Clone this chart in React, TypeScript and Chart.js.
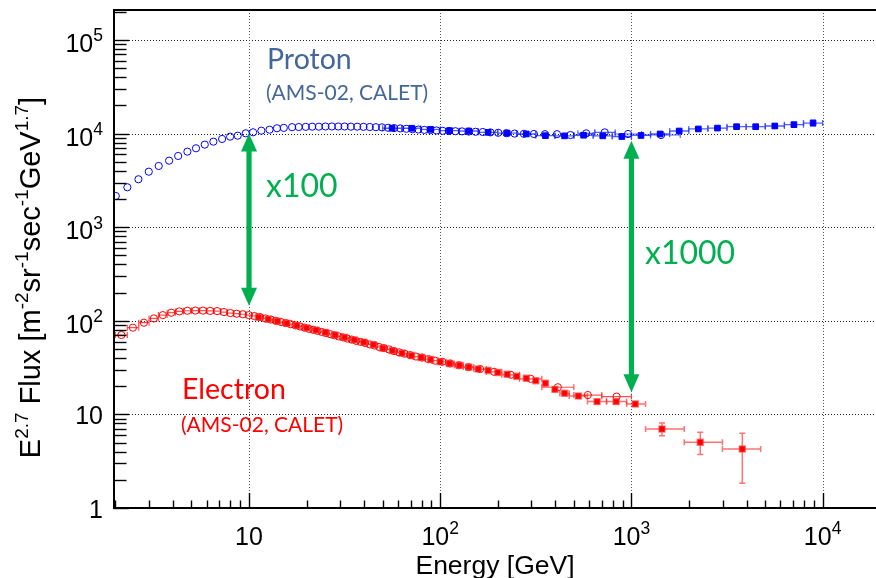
import React, { useEffect, useRef } from "react";
import { Chart, registerables } from "chart.js";

Chart.register(...registerables);

// ---------------- data ----------------
const xTickExponents = [1, 2, 3, 4];
const yTickExponents = [0, 1, 2, 3, 4, 5];
const xMin = 1.967;
const xMax = 19020;
const yMin = 1;
const yMax = 209000;

// Proton, AMS-02 (open circles)
const protonAmsEnergy = [2.01, 2.31, 2.64, 2.99, 3.37, 3.82, 4.26, 4.76, 5.28, 5.87, 6.51, 7.23, 7.96, 8.73, 9.61, 10.5, 11.6, 12.8, 14.0, 15.2, 16.8, 18.2, 19.8, 21.4, 23.2, 25.1, 27.1, 29.3, 31.6, 34.1, 36.8, 39.7, 42.8, 46.1, 49.6, 53.4, 57.4, 61.8, 66.5, 71.5, 76.8, 82.6, 88.9, 95.6, 103, 111, 120, 130, 141, 153, 167, 183, 201, 222, 245, 274, 309, 353, 408, 480, 580, 725, 960, 1430];
const protonAmsFlux = [2154, 2670, 3250, 3917, 4508, 5137, 5765, 6412, 6965, 7620, 8200, 8760, 9270, 9500, 10070, 10320, 10740, 11000, 11400, 11500, 11700, 11750, 11800, 11850, 11850, 11900, 11900, 11900, 11900, 11850, 11850, 11800, 11750, 11700, 11650, 11550, 11450, 11350, 11250, 11150, 11050, 10950, 10900, 10800, 10700, 10650, 10600, 10550, 10500, 10450, 10400, 10300, 10200, 10100, 10000, 9950, 9900, 9850, 9850, 9650, 10050, 10300, 9900, 9650];
const protonAmsEnergyBars: [number, number, number][] = [[60, 525, 643], [61, 643, 822], [62, 822, 1130], [63, 1130, 1800]];

// Proton, CALET (filled squares)
const protonCaletEnergy = [56, 71, 89, 112, 141, 178, 224, 282, 355, 447, 562, 708, 891, 1122, 1413, 1778, 2239, 2818, 3548, 4467, 5623, 7079, 8913];
const protonCaletFlux = [11400, 11400, 11100, 10750, 10650, 10300, 10100, 9900, 9500, 9450, 9600, 9450, 9300, 9550, 9900, 10650, 11200, 11450, 11850, 11850, 12050, 12450, 12950];
const protonCaletBinEdges = [50, 63, 79, 100, 126, 158, 200, 251, 316, 398, 501, 631, 794, 1000, 1259, 1585, 1995, 2512, 3162, 3981, 5012, 6310, 7943, 10000];
const protonCaletFluxBars: [number, number, number][] = [[18, 11500, 12200], [19, 11370, 12320], [20, 11450, 12650], [21, 11700, 13200], [22, 12070, 13890]];

// Electron, AMS-02 (open circles)
const electronAmsEnergy = [2.15, 2.47, 2.82, 3.18, 3.54, 3.92, 4.32, 4.76, 5.24, 5.74, 6.26, 6.81, 7.39, 7.99, 8.62, 9.28, 9.97, 10.67, 11.41, 12.19, 12.99, 13.82, 14.69, 15.59, 16.52, 17.48, 18.48, 19.51, 20.58, 21.68, 22.83, 24.01, 25.25, 26.57, 27.96, 29.44, 31.0, 32.66, 34.43, 36.32, 38.34, 40.48, 42.79, 45.27, 47.93, 50.81, 53.93, 57.33, 61.04, 65.13, 69.64, 74.66, 80.31, 86.71, 94.05, 102.6, 112.7, 125.1, 140.7, 161.7, 191.4, 233.7, 297.3, 412.3, 591.6, 836.7];
const electronAmsFlux = [70.5, 84.4, 95.4, 106, 115, 122, 126, 128, 128.5, 128.5, 127.5, 127, 124, 121, 119, 117.5, 115, 112.5, 109.5, 106, 103, 100, 97, 94.5, 92, 89.5, 87, 84.5, 82, 80, 78, 76, 74, 72, 70, 68, 66.5, 64.5, 63, 61, 59.5, 58, 56, 54.5, 52.5, 51, 49.5, 47.5, 46, 44.5, 43, 41.5, 40.5, 39, 37.5, 36.5, 35, 33.5, 32, 30.5, 28.5, 26.5, 24, 19.5, 16.1, 15.5];
const electronAmsBinEdges = [2.0, 2.31, 2.65, 3.0, 3.36, 3.73, 4.12, 4.54, 5.0, 5.49, 6.0, 6.54, 7.1, 7.69, 8.3, 8.95, 9.62, 10.32, 11.04, 11.8, 12.59, 13.41, 14.25, 15.14, 16.05, 17.0, 17.98, 18.99, 20.04, 21.13, 22.25, 23.42, 24.62, 25.9, 27.25, 28.68, 30.21, 31.82, 33.53, 35.36, 37.31, 39.39, 41.61, 44.0, 46.57, 49.33, 52.33, 55.58, 59.13, 63.02, 67.3, 72.05, 77.37, 83.36, 90.19, 98.08, 107.3, 118.4, 132.1, 149.8, 174.5, 210, 260, 340, 500, 700, 1000];

// Electron, CALET (filled squares)
const electronCaletEnergy = [11.2, 12.6, 14.1, 15.8, 17.8, 20.0, 22.4, 25.1, 28.2, 31.6, 35.5, 39.8, 44.7, 50.1, 56.2, 63.1, 70.8, 79.4, 89.1, 100, 112, 126, 141, 158, 178, 200, 224, 251, 282, 316, 355, 398, 447, 528, 661, 832, 1047, 1445, 2291, 3802];
const electronCaletFlux = [109, 104, 99, 94, 89, 84, 79.5, 75, 70.5, 66.5, 62.5, 59, 55.5, 51, 48, 45, 42.5, 40.5, 38.5, 36.5, 35, 33.5, 32, 30.5, 29.5, 28, 26.8, 25.5, 24.3, 22.9, 21.5, 18.5, 16.8, 15.7, 13.7, 13.7, 12.9, 6.98, 5.03, 4.27];
const electronCaletEnergyBars: [number, number, number][] = [[32, 422, 473], [33, 473, 589], [34, 589, 741], [35, 741, 944], [36, 944, 1186], [37, 1186, 1889], [38, 1889, 2992], [39, 2992, 4742]];
const electronCaletFluxBars: [number, number, number][] = [[35, 13.1, 14.3], [36, 12.2, 13.7], [37, 5.9, 8.1], [38, 3.74, 6.44], [39, 1.84, 6.28]];

// Annotations (ratio arrows)
const arrowEnergy = [10, 1000];
const arrowFluxTop = [10000, 8400];
const arrowFluxBottom = [145, 17.2];
const arrowLabels = ["x100", "x1000"];

// ---------------- helpers ----------------
const MAIN_FONT = '"Liberation Sans", Arial, Helvetica, sans-serif';
const NOTE_FONT = 'Lato, "Open Sans", sans-serif';

type Seg = { t: string; sup?: boolean };

function segWidth(ctx: CanvasRenderingContext2D, segs: Seg[], main: string, sup: string) {
  let w = 0;
  for (const s of segs) {
    ctx.font = s.sup ? sup : main;
    w += ctx.measureText(s.t).width;
  }
  return w;
}

function drawSegs(ctx: CanvasRenderingContext2D, segs: Seg[], x: number, y: number, main: string, sup: string, raise: number) {
  let cx = x;
  for (const s of segs) {
    ctx.font = s.sup ? sup : main;
    ctx.fillText(s.t, cx, s.sup ? y - raise : y);
    cx += ctx.measureText(s.t).width;
  }
}

function powSegs(e: number): Seg[] {
  if (e === 0) return [{ t: "1" }];
  if (e === 1) return [{ t: "10" }];
  return [{ t: "10" }, { t: String(e), sup: true }];
}

function buildBars(edges: number[]): [number, number, number][] {
  const out: [number, number, number][] = [];
  for (let i = 0; i < edges.length - 1; i++) out.push([i, edges[i], edges[i + 1]]);
  return out;
}

const backgroundPlugin = {
  id: "bgAndGrid",
  beforeDatasetsDraw(chart: any) {
    const { ctx, chartArea: a, scales } = chart;
    const x = scales.x;
    const y = scales.y;
    ctx.save();
    ctx.lineWidth = 1;
    ctx.setLineDash([1, 2]);
    ctx.strokeStyle = "#222";
    for (const e of yTickExponents) {
      if (e === 0) continue;
      const py = Math.round(y.getPixelForValue(Math.pow(10, e))) + 0.5;
      ctx.beginPath();
      ctx.moveTo(a.left, py);
      ctx.lineTo(a.right, py);
      ctx.stroke();
    }
    ctx.strokeStyle = "#555";
    for (const e of xTickExponents) {
      const px = Math.round(x.getPixelForValue(Math.pow(10, e))) + 0.5;
      ctx.beginPath();
      ctx.moveTo(px, a.top);
      ctx.lineTo(px, a.bottom);
      ctx.stroke();
    }
    ctx.setLineDash([]);

    ctx.beginPath();
    ctx.rect(a.left, a.top, a.right - a.left, a.bottom - a.top);
    ctx.clip();
    chart.data.datasets.forEach((ds: any) => {
      const eb = ds.errorBars;
      if (!eb) return;
      ctx.strokeStyle = eb.color;
      ctx.lineWidth = eb.width;
      const cap = eb.cap;
      (eb.x || []).forEach(([i, lo, hi]: number[]) => {
        const p = ds.data[i];
        const py = y.getPixelForValue(p.y);
        const x1 = x.getPixelForValue(lo);
        const x2 = x.getPixelForValue(hi);
        ctx.beginPath();
        ctx.moveTo(x1, py);
        ctx.lineTo(x2, py);
        if (cap > 0) {
          ctx.moveTo(x1, py - cap);
          ctx.lineTo(x1, py + cap);
          ctx.moveTo(x2, py - cap);
          ctx.lineTo(x2, py + cap);
        }
        ctx.stroke();
      });
      (eb.y || []).forEach(([i, lo, hi]: number[]) => {
        const p = ds.data[i];
        const px = x.getPixelForValue(p.x);
        const y1 = y.getPixelForValue(lo);
        const y2 = y.getPixelForValue(hi);
        ctx.beginPath();
        ctx.moveTo(px, y1);
        ctx.lineTo(px, y2);
        ctx.moveTo(px - cap, y1);
        ctx.lineTo(px + cap, y1);
        ctx.moveTo(px - cap, y2);
        ctx.lineTo(px + cap, y2);
        ctx.stroke();
      });
    });
    ctx.restore();
  },
};

const framePlugin = {
  id: "frameAndText",
  afterDraw(chart: any) {
    const { ctx, chartArea: a, scales } = chart;
    const x = scales.x;
    const y = scales.y;
    ctx.save();
    ctx.strokeStyle = "#000";
    ctx.fillStyle = "#000";

    ctx.lineWidth = 1.4;
    for (let e = 0; e <= 5; e++) {
      for (let m = 1; m <= 9; m++) {
        const v = m * Math.pow(10, e);
        if (v < yMin || v > yMax) continue;
        const py = Math.round(y.getPixelForValue(v)) + 0.5;
        const len = m === 1 ? 15 : 12.5;
        ctx.beginPath();
        ctx.moveTo(a.left, py);
        ctx.lineTo(a.left + len, py);
        ctx.stroke();
      }
    }
    for (let e = 0; e <= 4; e++) {
      for (let m = 1; m <= 9; m++) {
        const v = m * Math.pow(10, e);
        if (v < xMin || v > xMax) continue;
        const px = Math.round(x.getPixelForValue(v)) + 0.5;
        const len = m === 1 ? 15 : 7.5;
        ctx.beginPath();
        ctx.moveTo(px, a.bottom);
        ctx.lineTo(px, a.bottom - len);
        ctx.stroke();
      }
    }

    // frame (right side lies beyond the canvas, as in the reference)
    ctx.lineWidth = 2;
    ctx.strokeRect(a.left, a.top, a.right - a.left + 6, a.bottom - a.top);

    ctx.textAlign = "left";
    ctx.textBaseline = "alphabetic";
    const main = `25px ${MAIN_FONT}`;
    const sup = `17.5px ${MAIN_FONT}`;
    for (const e of yTickExponents) {
      const segs = powSegs(e);
      const w = segWidth(ctx, segs, main, sup);
      const py = y.getPixelForValue(Math.pow(10, e));
      drawSegs(ctx, segs, 103 - w, py + (e >= 2 ? 12 : 9.5), main, sup, 10.5);
    }
    for (const e of xTickExponents) {
      const segs = powSegs(e);
      const w = segWidth(ctx, segs, main, sup);
      const px = x.getPixelForValue(Math.pow(10, e));
      drawSegs(ctx, segs, px - w / 2, 545, main, sup, 11);
    }

    const xt: Seg[] = [{ t: "Energy [GeV]" }];
    const xMain = `26.5px ${MAIN_FONT}`;
    const xw = segWidth(ctx, xt, xMain, xMain);
    drawSegs(ctx, xt, 495 - xw / 2, 574, xMain, xMain, 0);

    const yt: Seg[] = [
      { t: "E" }, { t: "2.7", sup: true }, { t: " Flux [m" }, { t: "-2", sup: true },
      { t: "sr" }, { t: "-1", sup: true }, { t: "sec" }, { t: "-1", sup: true },
      { t: "GeV" }, { t: "1.7", sup: true }, { t: "]" },
    ];
    const yMain = `29px ${MAIN_FONT}`;
    const ySup = `19px ${MAIN_FONT}`;
    const yw = segWidth(ctx, yt, yMain, ySup);
    ctx.save();
    ctx.translate(40, 277.5);
    ctx.rotate(-Math.PI / 2);
    drawSegs(ctx, yt, -yw / 2, 0, yMain, ySup, 12);
    ctx.restore();

    ctx.fillStyle = "#00B050";
    for (let i = 0; i < arrowEnergy.length; i++) {
      const px = x.getPixelForValue(arrowEnergy[i]);
      const t = y.getPixelForValue(arrowFluxTop[i]);
      const b = y.getPixelForValue(arrowFluxBottom[i]);
      const hl = 18;
      const hw = 8;
      ctx.fillRect(px - 2.6, t + hl - 1, 5.2, b - t - 2 * hl + 2);
      ctx.beginPath();
      ctx.moveTo(px, t);
      ctx.lineTo(px - hw, t + hl);
      ctx.lineTo(px + hw, t + hl);
      ctx.closePath();
      ctx.fill();
      ctx.beginPath();
      ctx.moveTo(px, b);
      ctx.lineTo(px - hw, b - hl);
      ctx.lineTo(px + hw, b - hl);
      ctx.closePath();
      ctx.fill();
    }
    ctx.font = `32px ${NOTE_FONT}`;
    ctx.fillText(arrowLabels[0], 266, 197);
    ctx.fillText(arrowLabels[1], 645, 263.5);

    ctx.fillStyle = "#44679B";
    ctx.font = `28.5px ${NOTE_FONT}`;
    ctx.fillText("Proton", 267, 69);
    ctx.font = `21px ${NOTE_FONT}`;
    ctx.fillText("(AMS-02, CALET)", 266, 100);
    ctx.fillStyle = "#FF0000";
    ctx.font = `28.5px ${NOTE_FONT}`;
    ctx.fillText("Electron", 182, 399);
    ctx.font = `21px ${NOTE_FONT}`;
    ctx.fillText("(AMS-02, CALET)", 181, 431.5);

    ctx.restore();
  },
};

function toPoints(xs: number[], ys: number[]) {
  return xs.map((v, i) => ({ x: v, y: ys[i] }));
}

export default function App() {
  const ref = useRef<HTMLCanvasElement>(null);
  useEffect(() => {
    const canvas = ref.current;
    if (!canvas) return;
    const chart = new Chart(canvas, {
      type: "scatter",
      data: {
        datasets: [
          {
            label: "Proton AMS-02",
            data: toPoints(protonAmsEnergy, protonAmsFlux),
            pointStyle: "circle",
            pointRadius: 3.6,
            pointBorderWidth: 1,
            borderColor: "#0000FF",
            backgroundColor: "rgba(0,0,0,0)",
            order: 1,
            errorBars: { color: "rgba(40,60,255,0.8)", width: 1.2, cap: 3, x: protonAmsEnergyBars },
          } as any,
          {
            label: "Proton CALET",
            data: toPoints(protonCaletEnergy, protonCaletFlux),
            pointStyle: "rect",
            pointRadius: 4,
            pointBorderWidth: 1,
            borderColor: "#0000FF",
            backgroundColor: "#0000FF",
            order: 2,
            errorBars: { color: "rgba(40,60,255,0.8)", width: 1.3, cap: 3, x: buildBars(protonCaletBinEdges), y: protonCaletFluxBars },
          } as any,
          {
            label: "Electron AMS-02",
            data: toPoints(electronAmsEnergy, electronAmsFlux),
            pointStyle: "circle",
            pointRadius: 3.6,
            pointBorderWidth: 1,
            borderColor: "#FF0000",
            backgroundColor: "rgba(0,0,0,0)",
            order: 3,
            errorBars: { color: "rgba(255,40,40,0.8)", width: 1.2, cap: 3, x: buildBars(electronAmsBinEdges) },
          } as any,
          {
            label: "Electron CALET",
            data: toPoints(electronCaletEnergy, electronCaletFlux),
            pointStyle: "rect",
            pointRadius: 4.2,
            pointBorderWidth: 1.5,
            borderColor: "rgba(255,60,60,0.6)",
            backgroundColor: "#FF0000",
            order: 0,
            errorBars: { color: "rgba(255,40,40,0.65)", width: 1.5, cap: 3, x: electronCaletEnergyBars, y: electronCaletFluxBars },
          } as any,
        ],
      },
      options: {
        responsive: false,
        animation: false,
        devicePixelRatio: 1,
        layout: { autoPadding: false, padding: { left: 114, right: 0, top: 10, bottom: 70 } },
        plugins: { legend: { display: false }, tooltip: { enabled: false } },
        scales: {
          x: {
            type: "logarithmic", min: xMin, max: xMax, display: false,
            ticks: { display: false }, grid: { display: false }, border: { display: false },
          },
          y: {
            type: "logarithmic", min: yMin, max: yMax, display: false,
            ticks: { display: false }, grid: { display: false }, border: { display: false },
          },
        },
      },
      plugins: [backgroundPlugin, framePlugin],
    });
    return () => chart.destroy();
  }, []);
  return (
    <div style={{ position: "fixed", left: 0, top: 0, width: 876, height: 578, background: "#fff" }}>
      <canvas ref={ref} width={876} height={578} style={{ display: "block" }} />
    </div>
  );
}
